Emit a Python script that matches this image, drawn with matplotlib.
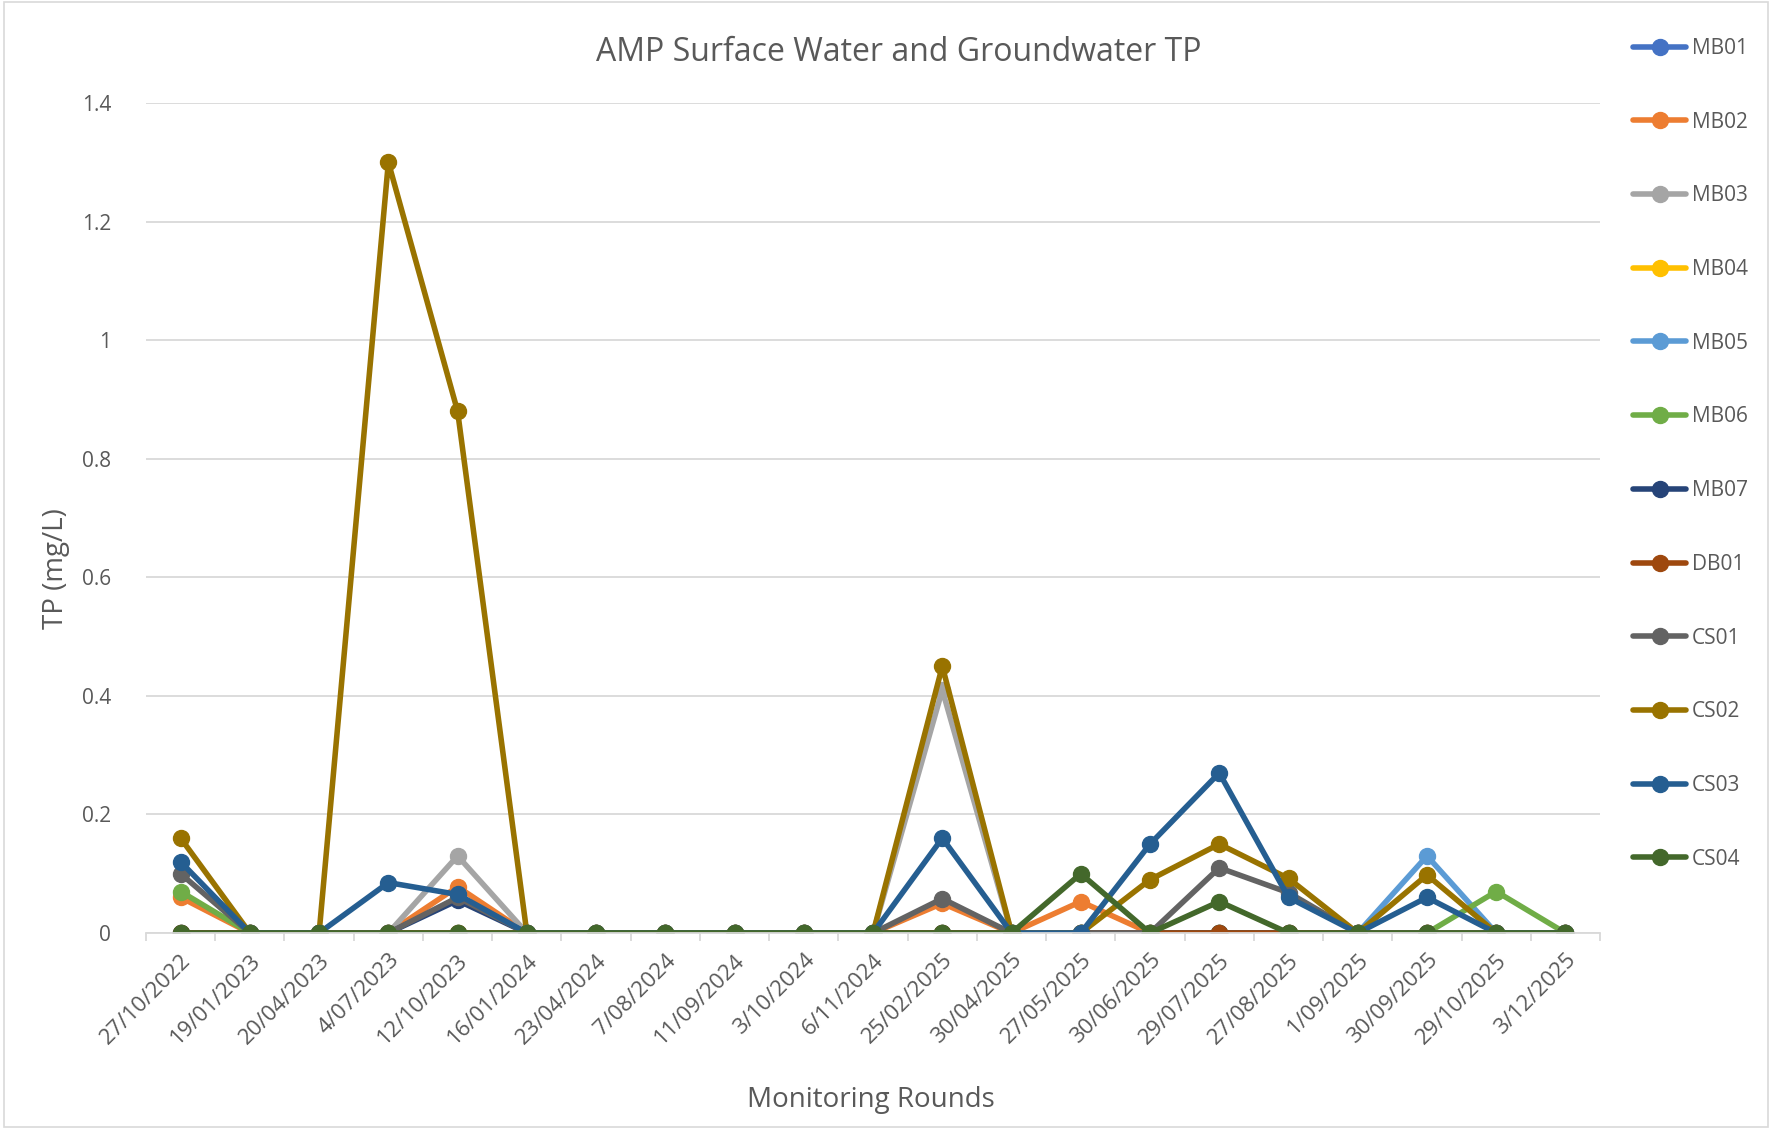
import matplotlib
matplotlib.use("Agg")
import matplotlib.pyplot as plt
import numpy as np
from matplotlib.patches import Rectangle

plt.rcParams['font.family'] = ['Open Sans', 'DejaVu Sans']

dates = ['27/10/2022', '19/01/2023', '20/04/2023', '4/07/2023', '12/10/2023', '16/01/2024',
         '23/04/2024', '7/08/2024', '11/09/2024', '3/10/2024', '6/11/2024', '25/02/2025',
         '30/04/2025', '27/05/2025', '30/06/2025', '29/07/2025', '27/08/2025', '1/09/2025',
         '30/09/2025', '29/10/2025', '3/12/2025']

MB01 = [0, 0, 0, 0, 0, 0, 0, 0, 0, 0, 0, 0, 0, 0, 0, 0, 0, 0, 0, 0, 0]
MB02 = [0.06, 0, 0, 0, 0.078, 0, 0, 0, 0, 0, 0, 0.05, 0, 0.053, 0, 0, 0, 0, 0, 0, 0]
MB03 = [0, 0, 0, 0, 0.13, 0, 0, 0, 0, 0, 0, 0.41, 0, 0, 0, 0, 0, 0, 0, 0, 0]
MB04 = [0, 0, 0, 0, 0, 0, 0, 0, 0, 0, 0, 0, 0, 0, 0, 0, 0, 0, 0, 0, 0]
MB05 = [0, 0, 0, 0, 0, 0, 0, 0, 0, 0, 0, 0, 0, 0, 0, 0, 0, 0, 0.13, 0, 0]
MB06 = [0.07, 0, 0, 0, 0, 0, 0, 0, 0, 0, 0, 0, 0, 0, 0, 0, 0, 0, 0, 0.07, 0]
MB07 = [0, 0, 0, 0, 0.055, 0, 0, 0, 0, 0, 0, 0, 0, 0, 0, 0, 0, 0, 0, 0, 0]
DB01 = [0, 0, 0, 0, 0, 0, 0, 0, 0, 0, 0, 0, 0, 0, 0, 0, 0, 0, 0, 0, 0]
CS01 = [0.10, 0, 0, 0, 0.06, 0, 0, 0, 0, 0, 0, 0.058, 0, 0, 0, 0.11, 0.068, 0, 0, 0, 0]
CS02 = [0.16, 0, 0, 1.30, 0.88, 0, 0, 0, 0, 0, 0, 0.45, 0, 0, 0.09, 0.15, 0.092, 0, 0.098, 0, 0]
CS03 = [0.12, 0, 0, 0.085, 0.065, 0, 0, 0, 0, 0, 0, 0.16, 0, 0, 0.15, 0.27, 0.06, 0, 0.06, 0, 0]
CS04 = [0, 0, 0, 0, 0, 0, 0, 0, 0, 0, 0, 0, 0, 0.10, 0, 0.053, 0, 0, 0, 0, 0]

series = {'MB01': MB01, 'MB02': MB02, 'MB03': MB03, 'MB04': MB04, 'MB05': MB05,
          'MB06': MB06, 'MB07': MB07, 'DB01': DB01, 'CS01': CS01, 'CS02': CS02,
          'CS03': CS03, 'CS04': CS04}
colors = ['#4472C4', '#ED7D31', '#A5A5A5', '#FFC000', '#5B9BD5', '#70AD47',
          '#264478', '#9E480E', '#636363', '#997300', '#255E91', '#43682B']

fig = plt.figure(figsize=(17.72, 11.29), dpi=100)
ax = fig.add_axes([0.0824, 0.1736, 0.8206, 0.7352])
fig.patches.append(Rectangle((0.002, 0.002), 0.996, 0.996, transform=fig.transFigure,
                             fill=False, edgecolor='#D9D9D9', linewidth=1.2))

x = np.arange(len(dates))
for (name, vals), c in zip(series.items(), colors):
    ax.plot(x, vals, color=c, linewidth=4, marker='o', markersize=11.5,
            label=name, solid_capstyle='round')

ax.set_xlim(-0.5, len(dates) - 0.5)
ax.set_ylim(0, 1.4)
ax.set_yticks(np.arange(0, 1.41, 0.2))
ax.set_yticklabels(['0', '0.2', '0.4', '0.6', '0.8', '1', '1.2', '1.4'])
ax.yaxis.grid(True, color='#D9D9D9', linewidth=1.3)
ax.set_axisbelow(True)
ax.set_xticks(x)
ax.set_xticklabels(dates, rotation=45, ha='right', rotation_mode='anchor')
ax.set_xticks(np.arange(-0.5, len(dates)), minor=True)
ax.tick_params(axis='x', which='major', length=0, labelsize=16, colors='#595959', pad=12)
ax.tick_params(axis='x', which='minor', length=6, color='#D9D9D9', width=1.3)
ax.tick_params(axis='y', length=0, labelsize=15, colors='#595959', pad=25)
for s in ['top', 'right', 'left']:
    ax.spines[s].set_visible(False)
ax.spines['bottom'].set_color('#D9D9D9')
ax.spines['bottom'].set_linewidth(1.3)

fig.text(0.507, 0.9536, 'AMP Surface Water and Groundwater TP', fontsize=23,
         color='#595959', ha='center', va='center')
fig.text(0.4916, 0.0253, 'Monitoring Rounds', fontsize=20, color='#595959',
         ha='center', va='center')
fig.text(0.0316, 0.496, 'TP (mg/L)', fontsize=20, color='#595959', rotation=90,
         ha='center', va='center')

leg = fig.legend(loc='upper left', bbox_to_anchor=(0.911, 0.983), frameon=False,
                 fontsize=15, labelspacing=2.53, handlelength=2.55, handletextpad=0.27)
for t in leg.get_texts():
    t.set_color('#595959')

fig.savefig('out.png', dpi=100)
